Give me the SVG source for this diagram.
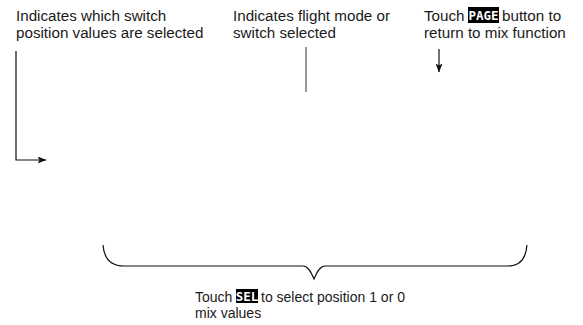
<svg xmlns="http://www.w3.org/2000/svg" width="583" height="325" viewBox="0 0 583 325">
<style>
.t{font-family:"Liberation Sans",Arial,sans-serif;font-size:15.2px;fill:#1a1a1a}
.b{font-family:"Liberation Sans",Arial,sans-serif;font-size:14px;fill:#1a1a1a}
.k{font-family:"DejaVu Sans Mono",monospace;font-size:12.5px;font-weight:bold;fill:#fff}
.ln{fill:none;stroke:#111;stroke-width:1.2}
</style>
<defs>
<marker id="ah" markerWidth="9" markerHeight="7" refX="8.5" refY="3.5" orient="auto" markerUnits="userSpaceOnUse">
<path d="M0,0 L9,3.5 L0,7 L2,3.5 Z" fill="#111"/>
</marker>
</defs>
<g id="label-left">
<text class="t" x="16" y="21">Indicates which switch</text>
<text class="t" x="16" y="38">position values are selected</text>
</g>
<g id="label-middle">
<text class="t" x="233" y="21">Indicates flight mode or</text>
<text class="t" x="233" y="38">switch selected</text>
</g>
<g id="label-right">
<text class="t" x="424" y="21">Touch</text>
<rect x="468" y="7" width="31" height="16" fill="#000"/>
<text class="k" x="483.5" y="19.5" text-anchor="middle">PAGE</text>
<text class="t" x="502" y="21">button to</text>
<text class="t" x="424" y="38">return to mix function</text>
</g>
<g id="label-bottom">
<text class="b" x="195" y="302">Touch</text>
<rect x="236" y="289" width="22" height="14" fill="#000"/>
<text class="k" x="247" y="300.5" text-anchor="middle">SEL</text>
<text class="b" x="261" y="302">to select position 1 or 0</text>
<text class="b" x="195" y="318">mix values</text>
</g>
<g id="connectors">
<path class="ln" d="M16,51 L16,160 L46,160" marker-end="url(#ah)"/>
<path d="M306,47 L306,92" fill="none" stroke="#555" stroke-width="1.2"/>
<path class="ln" d="M439,49 L439,72" marker-end="url(#ah)"/>
<path class="ln" d="M103,245 C104,258 110,266 124,266 L303,266 C308,266 311,272 314,279 C317,272 320,266 325,266 L508,266 C520,266 526,258 527,245"/>
</g>
</svg>
